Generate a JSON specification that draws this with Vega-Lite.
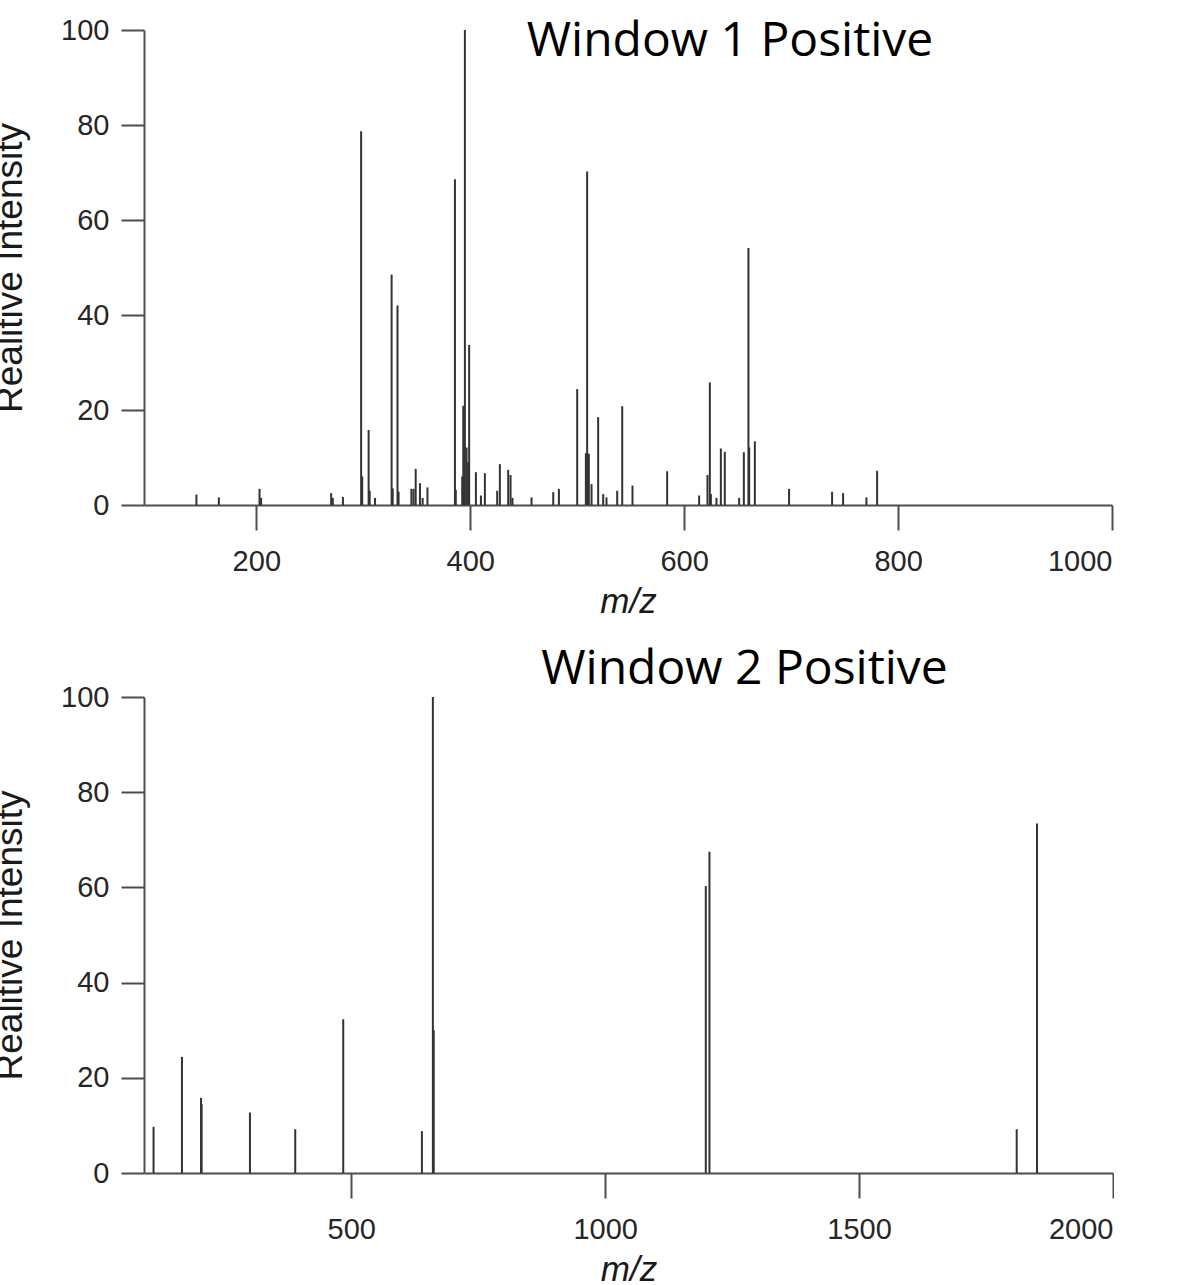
{
  "$schema": "https://vega.github.io/schema/vega-lite/v6.json",
  "background": "white",
  "padding": {"left": -9, "top": 16, "right": 0, "bottom": 0},
  "spacing": 27,
  "config": {
    "view": {"stroke": null},
    "axis": {
      "grid": false,
      "domainColor": "#4d4d4d",
      "domainWidth": 2,
      "tickColor": "#4d4d4d",
      "tickWidth": 2,
      "labelFont": "Liberation Sans",
      "labelFontSize": 29,
      "labelColor": "#262626",
      "titleFont": "Liberation Sans",
      "titleFontWeight": "normal",
      "titleColor": "#1a1a1a",
      "format": "d"
    },
    "axisX": {"tickSize": 25, "labelPadding": 17, "titleFontSize": 35, "titleFontStyle": "italic", "titlePadding": 8},
    "axisY": {"tickSize": 23, "labelPadding": 12, "titleFontSize": 37, "titlePadding": 31},
    "title": {"font": "Open Sans", "fontSize": 48, "fontWeight": "normal", "color": "#000000", "anchor": "middle", "offset": 0, "baseline": "alphabetic"}
  },
  "datasets": {
    "w1": [
      {"mz": 144, "intensity": 2.2}, {"mz": 165, "intensity": 1.6}, {"mz": 203, "intensity": 3.4}, {"mz": 204.5, "intensity": 1.5},
      {"mz": 270, "intensity": 2.5}, {"mz": 271.5, "intensity": 1.5}, {"mz": 281, "intensity": 1.7},
      {"mz": 298, "intensity": 78.7}, {"mz": 299, "intensity": 6.0}, {"mz": 305, "intensity": 15.8}, {"mz": 306, "intensity": 3.0}, {"mz": 311, "intensity": 1.5},
      {"mz": 326.5, "intensity": 48.5}, {"mz": 327.5, "intensity": 3.5}, {"mz": 332, "intensity": 42.0}, {"mz": 333, "intensity": 2.8},
      {"mz": 345, "intensity": 3.4}, {"mz": 347, "intensity": 3.4}, {"mz": 349, "intensity": 7.6}, {"mz": 353, "intensity": 4.6}, {"mz": 355.5, "intensity": 1.5}, {"mz": 360, "intensity": 3.7},
      {"mz": 385.7, "intensity": 68.6}, {"mz": 386.5, "intensity": 3.2}, {"mz": 392.5, "intensity": 6.0}, {"mz": 393.5, "intensity": 20.9}, {"mz": 395, "intensity": 100},
      {"mz": 396.6, "intensity": 12.1}, {"mz": 398, "intensity": 9.0}, {"mz": 399, "intensity": 33.7}, {"mz": 405.3, "intensity": 6.9}, {"mz": 410, "intensity": 2.0},
      {"mz": 413.7, "intensity": 6.7}, {"mz": 425.2, "intensity": 3.0}, {"mz": 427.7, "intensity": 8.6}, {"mz": 435.5, "intensity": 7.4}, {"mz": 437.7, "intensity": 6.3},
      {"mz": 439.5, "intensity": 1.5}, {"mz": 457.3, "intensity": 1.6}, {"mz": 477.6, "intensity": 2.7}, {"mz": 482.9, "intensity": 3.4},
      {"mz": 500, "intensity": 24.4}, {"mz": 508.1, "intensity": 10.9}, {"mz": 509.3, "intensity": 70.2}, {"mz": 510.9, "intensity": 10.8}, {"mz": 513.4, "intensity": 4.4},
      {"mz": 519.6, "intensity": 18.5}, {"mz": 524.3, "intensity": 2.3}, {"mz": 527.4, "intensity": 1.6}, {"mz": 537.4, "intensity": 3.0}, {"mz": 542.1, "intensity": 20.8},
      {"mz": 551.7, "intensity": 4.1}, {"mz": 584.1, "intensity": 7.1}, {"mz": 614, "intensity": 2.0}, {"mz": 621.8, "intensity": 6.3}, {"mz": 624, "intensity": 25.8},
      {"mz": 625, "intensity": 2.3}, {"mz": 630.2, "intensity": 1.5}, {"mz": 634.3, "intensity": 11.9}, {"mz": 638, "intensity": 11.2}, {"mz": 651.4, "intensity": 1.5},
      {"mz": 655.8, "intensity": 11.1}, {"mz": 660.1, "intensity": 54.1}, {"mz": 660.8, "intensity": 12.1}, {"mz": 666.1, "intensity": 13.4},
      {"mz": 698.1, "intensity": 3.4}, {"mz": 738.3, "intensity": 2.8}, {"mz": 748.6, "intensity": 2.5}, {"mz": 770.4, "intensity": 1.6}, {"mz": 780.4, "intensity": 7.2}
    ],
    "w2": [
      {"mz": 110.8, "intensity": 9.7}, {"mz": 166.7, "intensity": 24.4}, {"mz": 204.3, "intensity": 15.8}, {"mz": 205.5, "intensity": 14.5},
      {"mz": 300.6, "intensity": 12.7}, {"mz": 389.8, "intensity": 9.2}, {"mz": 484.3, "intensity": 32.3}, {"mz": 639.2, "intensity": 8.8},
      {"mz": 660.8, "intensity": 100}, {"mz": 662.5, "intensity": 30}, {"mz": 1198.2, "intensity": 60.3}, {"mz": 1205.4, "intensity": 67.5},
      {"mz": 1810.4, "intensity": 9.2}, {"mz": 1850.4, "intensity": 73.4}
    ]
  },
  "vconcat": [
    {
      "title": {"text": "Window 1 Positive", "dx": 102, "dy": 54},
      "width": 968,
      "height": 475,
      "data": {"name": "w1"},
      "mark": {"type": "rule", "color": "#333333", "strokeWidth": 2},
      "encoding": {
        "x": {"field": "mz", "type": "quantitative", "scale": {"domain": [95, 1000], "nice": false, "zero": false},
              "axis": {"title": "m/z", "values": [200, 400, 600, 800, 1000]}},
        "y": {"field": "intensity", "type": "quantitative", "scale": {"domain": [0, 100], "nice": false},
              "axis": {"title": "Realitive Intensity", "values": [0, 20, 40, 60, 80, 100]}},
        "y2": {"datum": 0}
      }
    },
    {
      "title": {"text": "Window 2 Positive", "dx": 116, "dy": 15},
      "width": 969,
      "height": 476,
      "data": {"name": "w2"},
      "mark": {"type": "rule", "color": "#333333", "strokeWidth": 2},
      "encoding": {
        "x": {"field": "mz", "type": "quantitative", "scale": {"domain": [92, 2000], "nice": false, "zero": false},
              "axis": {"title": "m/z", "values": [500, 1000, 1500, 2000]}},
        "y": {"field": "intensity", "type": "quantitative", "scale": {"domain": [0, 100], "nice": false},
              "axis": {"title": "Realitive Intensity", "values": [0, 20, 40, 60, 80, 100]}},
        "y2": {"datum": 0}
      }
    }
  ]
}
